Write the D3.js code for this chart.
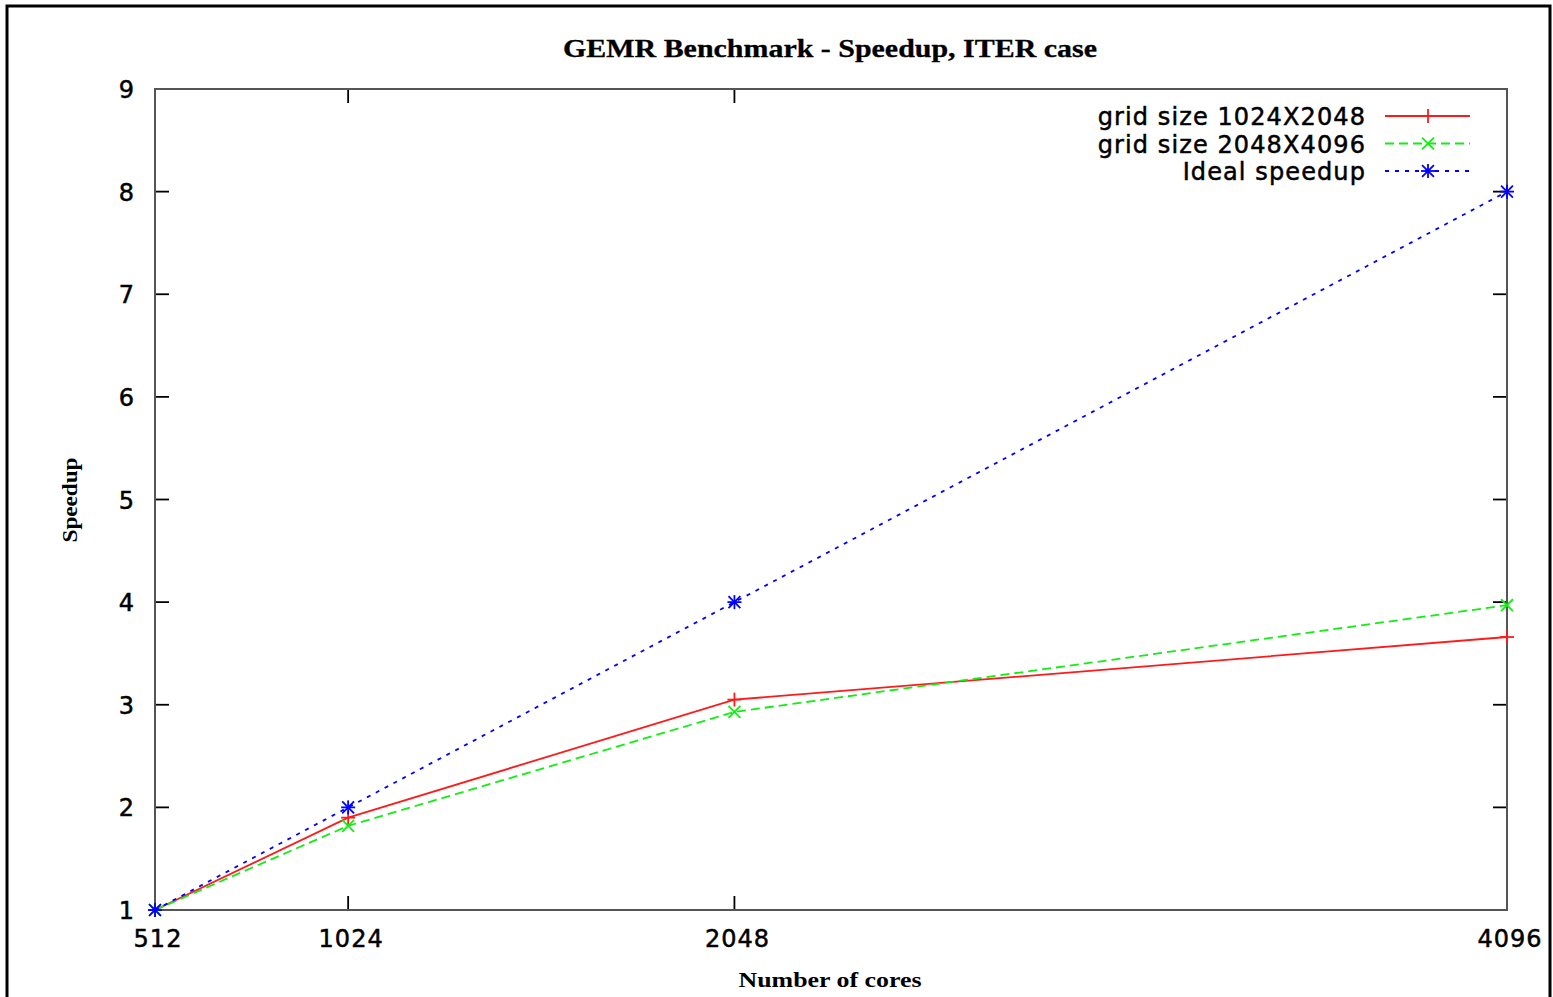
<!DOCTYPE html>
<html><head><meta charset="utf-8">
<script src="https://cdn.jsdelivr.net/npm/d3@7"></script>
<style>body{margin:0;background:#fff;} svg{display:block;}</style>
</head><body>
<script>
const cores = [512, 1024, 2048, 4096];
const grid1024 = [1, 1.90, 3.05, 3.66];
const grid2048 = [1, 1.82, 2.93, 3.97];
const ideal = [1, 2, 4, 8];
const yTicks = [1,2,3,4,5,6,7,8,9];
const seriesNames = ["grid size 1024X2048","grid size 2048X4096","Ideal speedup"];

const W=1553,H=997;
const svg=d3.select("body").append("svg").attr("width",W).attr("height",H);
svg.append("rect").attr("x",7).attr("y",6).attr("width",1543).attr("height",1010)
  .attr("fill","none").attr("stroke","#000").attr("stroke-width",3);

const L=155,R=1507,T=89,B=910;
const x=d3.scaleLinear().domain([512,4096]).range([L,R]);
const y=d3.scaleLinear().domain([1,9]).range([B,T]);
const sans="'DejaVu Sans', sans-serif", serif="'Liberation Serif', serif";

const tk=14, axc="#555";
const g=svg.append("g");
function sansText(sel){return sel.attr("font-family",sans).attr("font-size",24).attr("letter-spacing",1)
  .attr("stroke","#000").attr("stroke-width",0.5).attr("fill","#000");}
yTicks.forEach(v=>{
  g.append("line").attr("x1",L).attr("x2",L+tk).attr("y1",y(v)).attr("y2",y(v)).attr("stroke","#000").attr("stroke-width",1.8);
  g.append("line").attr("x1",R-tk).attr("x2",R).attr("y1",y(v)).attr("y2",y(v)).attr("stroke","#000").attr("stroke-width",1.8);
  sansText(g.append("text").attr("x",135).attr("y",y(v)+9).attr("text-anchor","end")).text(v);
});
cores.forEach(c=>{
  g.append("line").attr("x1",x(c)).attr("x2",x(c)).attr("y1",B).attr("y2",B-tk).attr("stroke","#000").attr("stroke-width",1.8);
  g.append("line").attr("x1",x(c)).attr("x2",x(c)).attr("y1",T).attr("y2",T+tk).attr("stroke","#000").attr("stroke-width",1.8);
  sansText(g.append("text").attr("x",x(c)+3).attr("y",947).attr("text-anchor","middle")).text(c);
});
svg.append("rect").attr("x",L).attr("y",T).attr("width",R-L).attr("height",B-T)
  .attr("fill","none").attr("stroke",axc).attr("stroke-width",2);

svg.append("text").attr("x",830).attr("y",57).attr("text-anchor","middle")
  .attr("font-family",serif).attr("font-weight","bold").attr("font-size",25)
  .attr("stroke","#000").attr("stroke-width",0.3)
  .attr("textLength",534).attr("lengthAdjust","spacingAndGlyphs").text("GEMR Benchmark - Speedup, ITER case");
svg.append("text").attr("x",830).attr("y",987).attr("text-anchor","middle")
  .attr("font-family",serif).attr("font-size",22).attr("font-weight","bold")
  .attr("textLength",183).attr("lengthAdjust","spacingAndGlyphs").text("Number of cores");
svg.append("text").attr("transform","translate(77,500) rotate(-90)").attr("text-anchor","middle")
  .attr("font-family",serif).attr("font-size",22).attr("font-weight","bold")
  .attr("textLength",85).attr("lengthAdjust","spacingAndGlyphs").text("Speedup");

const series=[
  {name:seriesNames[0],vals:grid1024,color:"#ff1a1a",dash:null,marker:"plus"},
  {name:seriesNames[1],vals:grid2048,color:"#11ee11",dash:"9,5",marker:"cross"},
  {name:seriesNames[2],vals:ideal,color:"#0000ff",dash:"4,6",marker:"star"}
];
const line=d3.line().x((d,i)=>x(cores[i])).y(d=>y(d));

function marker(sel,type,cx,cy,color){
  const s=7, parts=[];
  if(type==="plus"||type==="star"){parts.push([-s,0,s,0],[0,-s,0,s]);}
  if(type==="cross"||type==="star"){parts.push([-s*0.85,-s*0.85,s*0.85,s*0.85],[-s*0.85,s*0.85,s*0.85,-s*0.85]);}
  parts.forEach(p=>sel.append("line").attr("x1",cx+p[0]).attr("y1",cy+p[1]).attr("x2",cx+p[2]).attr("y2",cy+p[3])
    .attr("stroke",color).attr("stroke-width",1.8));
}

series.forEach((s,k)=>{
  svg.append("path").datum(s.vals).attr("d",line).attr("fill","none")
    .attr("stroke",s.color).attr("stroke-width",1.8).attr("stroke-dasharray",s.dash);
  s.vals.forEach((v,i)=>marker(svg,s.marker,x(cores[i]),y(v),s.color));
  const ly=116+k*27.5;
  sansText(svg.append("text").attr("x",1366).attr("y",ly+9).attr("text-anchor","end")).attr("letter-spacing",1.1).text(s.name);
  svg.append("line").attr("x1",1385).attr("x2",1470).attr("y1",ly).attr("y2",ly)
    .attr("stroke",s.color).attr("stroke-width",1.8).attr("stroke-dasharray",s.dash);
  marker(svg,s.marker,1428,ly,s.color);
});
</script>
</body></html>
